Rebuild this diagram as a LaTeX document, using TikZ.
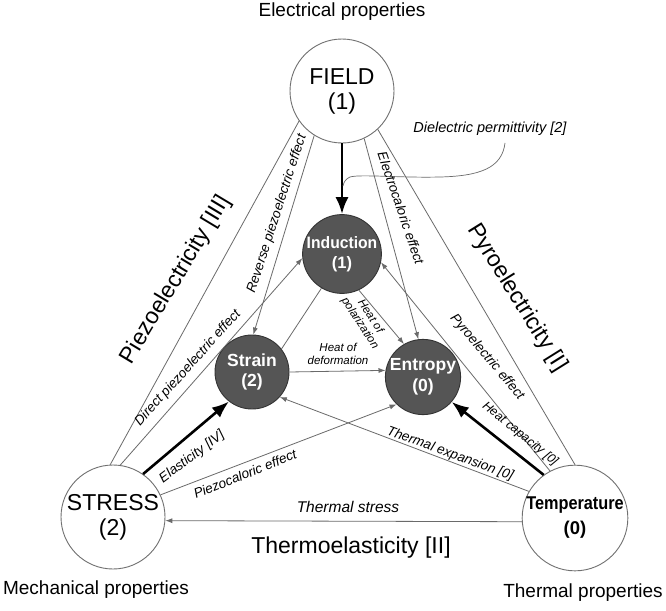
\documentclass[tikz,border=0pt]{standalone}
\usepackage{fontspec}
\setmainfont{Liberation Sans}
\usetikzlibrary{arrows.meta}
\definecolor{lgray}{HTML}{6A6A6A}
\definecolor{dfill}{HTML}{555555}
\definecolor{dborder}{HTML}{333333}
\definecolor{cborder}{HTML}{707070}
\begin{document}
\begin{tikzpicture}[x=1pt,y=-1pt,
  bigc/.style={circle, draw=cborder, line width=0.9pt, fill=white, minimum size=104pt, inner sep=0pt, align=center, font=\fontsize{23}{25}\selectfont},
  darkc/.style={circle, draw=dborder, line width=0.9pt, fill=dfill, minimum size=74pt, inner sep=0pt, align=center, text=white, font=\fontsize{17.5}{20.5}\selectfont\bfseries},
  conn/.style={draw=lgray, line width=0.8pt},
  tarrow/.style={conn, -{Latex[length=7pt,width=5pt]}},
  karrow/.style={draw=black, line width=2.6pt, -{Latex[length=17pt,width=13pt]}},
  elab/.style={font=\fontsize{13.5}{15}\selectfont\itshape, inner sep=0pt},
  biglab/.style={font=\fontsize{23}{26}\selectfont, inner sep=0pt},
  proplab/.style={font=\fontsize{19}{22}\selectfont, inner sep=0pt},
]
\useasboundingbox[fill=white] (0,0) rectangle (666,610);

% main nodes
\node[bigc] (field) at (342,91) {FIELD\\(1)};
\node[bigc] (stress) at (113,517) {STRESS\\(2)};
\node[bigc, font=\fontsize{18.5}{25}\selectfont\bfseries] (temp) at (575,518) {\scalebox{0.88}[1]{Temperature}\\(0)};
\node[darkc, minimum size=71pt, font=\fontsize{16.5}{20}\selectfont\bfseries] (ind) at (342,254) {\scalebox{0.95}[1]{Induction}\\(1)};
\node[darkc] (strain) at (252,372) {Strain\\(2)};
\node[darkc] (ent) at (423,377) {Entropy\\(0)};

% connectors
\draw[conn] (stress.93) -- (field.215);
\draw[conn] (field.313) -- (temp.90);
\draw[tarrow] (field.238) -- (strain.88);
\draw[tarrow] (stress.82) -- (ind.186);
\draw[karrow] (field.270) -- (ind.90);
\draw[tarrow] (field.295) -- (ent.97);
\draw[tarrow] (temp.118) -- (ind.348);
\draw[karrow] (temp.126) -- (ent.319);
\draw[tarrow] (temp.150) -- (strain.318);
\draw[tarrow] (temp.184) -- (stress.356);
\draw[karrow] (stress.55) -- (strain.232);
\draw[tarrow] (stress.25) -- (ent.226);
\draw[tarrow] (strain.0) -- (ent.170);
\draw[tarrow] (ind.295) -- (ent.120);
\draw[conn] (strain.38) -- (ind.239);

% dielectric permittivity pointer
\coordinate (dpa) at (505,143);
\coordinate (dpb) at (343,186);
\draw[conn, line width=0.7pt] (dpa) .. controls (502,168) and (480,176) .. (440,177) .. controls (400,178) and (360,174) .. (350,177) .. controls (346,179) and (344,181) .. (dpb);

% labels
\node[proplab] (pe) at (342,12) {Electrical properties};
\node[proplab] (pm) at (96,590) {Mechanical properties};
\node[proplab] (pt) at (583,593) {Thermal properties};
\node[biglab, rotate=59] (lpiezo) at (176,280) {Piezoelectricity [III]};
\node[biglab, rotate=-58] (lpyro) at (517,298) {Pyroelectricity [I]};
\node[biglab] (lthermo) at (351,548) {Thermoelasticity [II]};
\node[elab, rotate=72] (lrev) at (277,214) {Reverse piezoelectric effect};
\node[elab, rotate=48] (ldir) at (188,368) {Direct piezoelectric effect};
\node[elab, rotate=37] (lela) at (192,457) {Elasticity [IV]};
\node[elab, rotate=22] (lpzc) at (245,474) {Piezocaloric effect};
\node[elab, font=\fontsize{15.5}{18}\selectfont\itshape] (lts) at (348,507) {Thermal stress};
\node[elab, rotate=-20] (lte) at (450,454) {Thermal expansion [0]};
\node[elab, rotate=-39, font=\fontsize{12.5}{15}\selectfont\itshape] (lhc) at (520,434) {Heat capacity [0]};
\node[elab, rotate=-50] (lpe) at (487,357) {Pyroelectric effect};
\node[elab, rotate=-71] (lec) at (401,208) {Electrocaloric effect};
\node[elab, rotate=-57, align=center, font=\fontsize{11.5}{12.5}\selectfont\itshape] (lhp) at (365,320) {Heat of\\polarization};
\node[elab, align=center, font=\fontsize{11.5}{12.5}\selectfont\itshape] (lhd) at (338,354) {Heat of\\deformation};
\node[elab, font=\fontsize{14.5}{17}\selectfont\itshape] (ldp) at (490,129) {Dielectric permittivity [2]};
\end{tikzpicture}
\end{document}
